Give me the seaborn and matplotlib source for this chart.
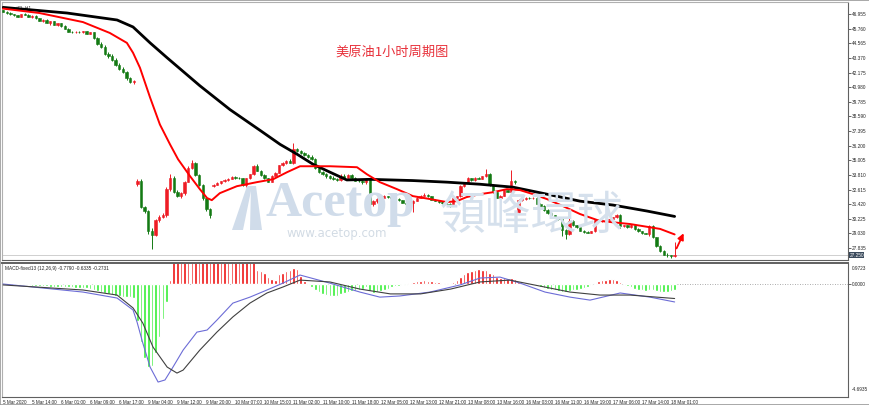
import numpy as np
import pandas as pd
import matplotlib.pyplot as plt
import seaborn as sns
from matplotlib.patches import Rectangle, Polygon

sns.set_style("white")
plt.rcParams['font.family'] = ['Liberation Sans', 'DejaVu Sans', 'Noto Sans CJK SC']

# hourly candles, bar index 0..185
opens = [47.25, 47.15, 47.05, 46.95, 46.85, 46.75, 46.95, 46.90, 46.75, 46.80,
         46.60, 46.40, 46.50, 46.25, 46.35, 46.10, 46.20, 45.95, 45.75, 45.50,
         45.45, 45.50, 45.45, 45.55, 45.35, 45.45, 45.00, 44.50, 44.30, 43.70,
         43.50, 43.20, 42.80, 42.50, 42.20, 41.70, 41.40, 33.10, 33.35, 31.20,
         30.85, 29.20, 28.90, 30.10, 30.40, 30.50, 32.70, 33.60, 32.45, 32.10,
         32.30, 33.25, 34.40, 34.75, 33.80, 33.00, 31.90, 31.00, 32.90, 33.00,
         33.15, 33.30, 33.40, 33.50, 33.65, 33.60, 33.55, 32.95, 33.55, 33.85,
         34.55, 34.15, 33.80, 33.55, 33.25, 33.75, 34.00, 34.60, 34.80, 34.95,
         34.80, 35.95, 35.75, 35.60, 35.45, 35.30, 35.10, 34.40, 34.05, 33.90,
         33.70, 33.60, 33.50, 33.40, 33.75, 33.60, 33.80, 33.55, 33.35, 33.30,
         33.20, 33.50, 31.40, 31.65, 31.85, 31.95, 32.05, 32.00, 31.95, 31.85,
         31.75, 31.55, 31.45, 31.50, 31.70, 31.95, 32.10, 32.20, 32.05, 31.80,
         31.70, 31.60, 31.50, 31.45, 31.30, 31.90, 32.05, 32.90, 33.20, 33.55,
         33.40, 33.60, 33.50, 33.70, 33.90, 33.00, 32.40, 31.95, 32.10, 32.55,
         32.45, 33.30, 30.80, 31.75, 31.85, 31.95, 31.90, 31.95, 31.45, 31.30,
         30.95, 30.70, 30.50, 30.35, 30.20, 29.30, 28.95, 30.05, 29.70, 29.55,
         29.25, 29.15, 29.10, 29.20, 30.10, 30.05, 30.10, 30.15, 30.20, 30.35,
         30.55, 29.60, 29.70, 29.55, 29.75, 29.40, 29.20, 29.05, 29.00, 29.65,
         28.70, 28.00, 27.60, 27.30, 27.25, 27.15]
highs = [47.30, 47.20, 47.10, 47.00, 46.90, 47.00, 47.05, 46.95, 46.85, 46.85,
         46.65, 46.55, 46.55, 46.40, 46.40, 46.25, 46.25, 46.05, 45.80, 45.55,
         45.55, 45.55, 45.60, 45.60, 45.50, 45.50, 45.10, 44.65, 44.40, 43.85,
         43.70, 43.40, 42.95, 42.60, 42.30, 41.85, 41.60, 33.50, 33.45, 31.30,
         30.95, 29.50, 30.20, 30.50, 30.70, 32.80, 33.90, 33.70, 32.55, 32.45,
         33.35, 34.55, 35.00, 34.85, 33.90, 33.10, 32.00, 31.10, 33.10, 33.25,
         33.35, 33.50, 33.60, 33.75, 33.70, 33.65, 33.60, 33.60, 33.90, 34.65,
         34.70, 34.25, 33.85, 33.60, 33.80, 34.05, 34.65, 34.85, 35.00, 35.10,
         36.45, 36.05, 35.85, 35.70, 35.55, 35.40, 35.20, 34.50, 34.15, 34.00,
         33.80, 33.70, 33.60, 33.85, 33.85, 33.90, 33.85, 33.65, 33.45, 33.40,
         33.60, 33.55, 31.75, 31.95, 32.05, 32.15, 32.10, 32.05, 32.00, 31.90,
         31.80, 31.60, 31.55, 31.80, 32.00, 32.15, 32.30, 32.25, 32.10, 31.85,
         31.75, 31.65, 31.55, 31.50, 31.95, 32.10, 32.95, 33.25, 33.65, 33.60,
         33.65, 33.65, 33.75, 34.30, 33.95, 33.05, 32.45, 32.15, 32.60, 32.60,
         34.25, 33.40, 31.85, 31.90, 32.00, 32.00, 32.00, 32.00, 31.50, 31.35,
         31.00, 30.80, 30.55, 30.40, 30.25, 29.40, 30.45, 30.10, 29.75, 29.60,
         29.30, 29.20, 29.25, 30.20, 30.20, 30.15, 30.20, 30.25, 30.40, 30.60,
         30.60, 29.75, 29.75, 29.80, 29.80, 29.45, 29.25, 29.10, 29.70, 29.70,
         28.75, 28.05, 27.65, 27.40, 27.30, 28.30]
lows = [47.10, 47.00, 46.90, 46.80, 46.70, 46.70, 46.85, 46.70, 46.65, 46.55,
        46.35, 46.30, 46.20, 46.10, 46.05, 46.00, 45.90, 45.70, 45.45, 45.40,
        45.40, 45.40, 45.40, 45.30, 45.30, 44.90, 44.40, 44.20, 43.60, 43.40,
        43.10, 42.70, 42.40, 42.10, 41.60, 41.30, 41.20, 32.90, 31.10, 30.70,
        29.00, 27.75, 28.80, 29.95, 30.30, 30.40, 32.50, 32.35, 32.00, 31.95,
        32.20, 33.20, 34.30, 33.70, 32.90, 31.75, 30.90, 30.30, 32.80, 32.95,
        33.05, 33.20, 33.30, 33.45, 33.50, 33.45, 32.90, 32.85, 33.50, 33.80,
        34.10, 33.75, 33.45, 33.20, 33.20, 33.70, 33.95, 34.50, 34.70, 34.75,
        34.70, 35.65, 35.50, 35.35, 35.20, 35.00, 34.30, 33.95, 33.80, 33.60,
        33.50, 33.40, 33.30, 33.35, 33.50, 33.55, 33.45, 33.30, 33.20, 33.10,
        33.10, 31.30, 31.30, 31.55, 31.75, 31.90, 31.95, 31.90, 31.80, 31.70,
        31.50, 31.40, 31.35, 30.80, 31.65, 31.90, 32.05, 32.00, 31.75, 31.65,
        31.55, 31.45, 31.40, 31.20, 31.25, 31.85, 32.00, 32.85, 33.15, 33.35,
        33.35, 33.45, 33.45, 33.65, 32.90, 32.35, 31.90, 31.90, 32.05, 32.40,
        32.10, 33.10, 30.70, 31.70, 31.80, 31.85, 31.85, 31.40, 31.25, 30.90,
        30.65, 30.45, 30.30, 30.15, 28.85, 28.60, 28.90, 29.65, 29.50, 29.20,
        29.10, 29.05, 29.05, 29.15, 30.00, 30.00, 30.05, 30.10, 30.15, 30.30,
        29.50, 29.55, 29.50, 29.50, 29.35, 29.15, 29.00, 28.95, 28.80, 28.65,
        27.95, 27.55, 27.25, 27.10, 27.05, 27.10]
closes = [47.15, 47.05, 46.95, 46.85, 46.75, 46.95, 46.90, 46.75, 46.80, 46.60,
          46.40, 46.50, 46.25, 46.35, 46.10, 46.20, 45.95, 45.75, 45.50, 45.45,
          45.50, 45.45, 45.55, 45.35, 45.45, 45.00, 44.50, 44.30, 43.70, 43.50,
          43.20, 42.80, 42.50, 42.20, 41.70, 41.40, 41.50, 33.35, 31.20, 30.85,
          29.20, 28.90, 30.10, 30.40, 30.50, 32.70, 33.60, 32.45, 32.10, 32.30,
          33.25, 34.40, 34.75, 33.80, 33.00, 31.90, 31.00, 30.55, 33.00, 33.15,
          33.30, 33.40, 33.50, 33.65, 33.60, 33.55, 32.95, 33.55, 33.85, 34.55,
          34.15, 33.80, 33.55, 33.25, 33.75, 34.00, 34.60, 34.80, 34.95, 34.80,
          35.95, 35.75, 35.60, 35.45, 35.30, 35.10, 34.40, 34.05, 33.90, 33.70,
          33.60, 33.50, 33.40, 33.75, 33.60, 33.80, 33.55, 33.35, 33.30, 33.20,
          33.50, 31.40, 31.65, 31.85, 31.95, 32.05, 32.00, 31.95, 31.85, 31.75,
          31.55, 31.45, 31.50, 31.70, 31.95, 32.10, 32.20, 32.05, 31.80, 31.70,
          31.60, 31.50, 31.45, 31.30, 31.90, 32.05, 32.90, 33.20, 33.55, 33.40,
          33.60, 33.50, 33.70, 33.90, 33.00, 32.40, 31.95, 32.10, 32.55, 32.45,
          33.30, 33.20, 31.75, 31.85, 31.95, 31.90, 31.95, 31.45, 31.30, 30.95,
          30.70, 30.50, 30.35, 30.20, 29.30, 28.95, 30.05, 29.70, 29.55, 29.25,
          29.15, 29.10, 29.20, 30.10, 30.05, 30.10, 30.15, 30.20, 30.35, 30.55,
          29.60, 29.70, 29.55, 29.75, 29.40, 29.20, 29.05, 29.00, 29.65, 28.70,
          28.00, 27.60, 27.30, 27.25, 27.15, 27.25]

# moving averages (bar, price)
red_ma_bar = [0, 10, 22, 29.4, 34.1, 35.8, 37.7, 40.5, 43.2, 46, 48.2, 51.5, 54.2,
              56.2, 57.5, 59.7, 64.4, 69.9, 74.4, 78.2, 81.8, 85.4, 90.1, 97.5,
              100.2, 103.8, 108.5, 112.9, 117.6, 122.3, 125, 127.7, 131.4, 135,
              138.8, 142.4, 146, 149.8, 154.2, 158.9, 164.4, 172.7, 181, 185]
red_ma_val = [47.40, 47.04, 46.30, 45.41, 44.60, 43.79, 42.57, 40.13, 37.93, 36.30,
              35.09, 33.71, 32.65, 31.92, 31.75, 32.32, 32.89, 33.22, 33.46, 34.03,
              34.52, 34.52, 34.52, 34.44, 33.87, 33.22, 32.65, 32.08, 31.84, 31.59,
              31.67, 32.00, 32.24, 32.40, 32.65, 32.57, 32.24, 31.84, 31.27, 30.62,
              30.05, 29.80, 29.40, 28.95]
black_ma_bar = [0, 17.6, 31.4, 35.8, 40.5, 45.2, 54.2, 62.5, 70.8, 76.3, 81, 85.4,
                90.1, 94.7, 101.1, 112.9, 122.3, 131.4, 140.5, 149.8, 158.9, 168,
                177.4, 185]
black_ma_val = [47.50, 47.04, 46.47, 45.90, 44.60, 43.38, 41.10, 39.15, 37.45, 36.31,
                35.50, 34.68, 34.03, 33.40, 33.45, 33.35, 33.22, 33.05, 32.81, 32.24,
                31.67, 31.35, 30.86, 30.42]

# MACD histogram per bar
macd_hist = [0.00, -0.01, -0.02, -0.03, -0.04, -0.05, -0.05, -0.06, -0.07, -0.08,
             -0.09, -0.10, -0.10, -0.11, -0.12, -0.12, -0.13, -0.14, -0.15, -0.15,
             -0.16, -0.17, -0.17, -0.18, -0.22, -0.28, -0.32, -0.36, -0.40, -0.44,
             -0.47, -0.50, -0.53, -0.55, -0.56, -0.58, -0.62, -1.60, -2.50, -3.20,
             -3.60, -3.55, -3.00, -2.30, -1.50, -0.80, 0.17, 0.97, 0.97, 0.97,
             0.97, 0.97, 0.97, 0.97, 0.97, 0.97, 0.97, 0.97, 0.97, 0.97,
             0.97, 0.97, 0.97, 0.97, 0.97, 0.97, 0.97, 0.97, 0.97, 0.97,
             0.60, 0.55, 0.50, 0.32, 0.22, 0.17, 0.42, 0.48, 0.55, 0.60,
             0.70, 0.65, 0.35, 0.12, -0.05, -0.15, -0.25, -0.35, -0.42, -0.48,
             -0.52, -0.52, -0.50, -0.45, -0.40, -0.35, -0.30, -0.30, -0.25, -0.20,
             -0.15, -0.30, -0.38, -0.35, -0.30, -0.25, -0.20, -0.15, -0.10, -0.08,
             -0.06, -0.05, 0.04, 0.08, 0.12, 0.15, 0.18, 0.15, 0.12, 0.10,
             0.08, 0.06, 0.05, 0.04, 0.10, 0.18, 0.30, 0.42, 0.52, 0.58,
             0.62, 0.65, 0.62, 0.60, 0.50, 0.42, 0.32, 0.28, 0.25, 0.22,
             0.25, 0.22, 0.10, 0.06, 0.04, 0.02, -0.02, -0.08, -0.12, -0.18,
             -0.22, -0.26, -0.28, -0.30, -0.34, -0.36, -0.30, -0.28, -0.25, -0.22,
             -0.18, -0.12, -0.05, 0.06, 0.12, 0.16, 0.18, 0.20, 0.20, 0.18,
             0.08, -0.05, -0.10, -0.15, -0.20, -0.24, -0.28, -0.30, -0.25, -0.28,
             -0.32, -0.35, -0.36, -0.34, -0.30, -0.27]

# MACD main / signal lines (bar, value)
macd_bar = [0, 8.2, 22, 31.4, 35.8, 36.9, 38.5, 40.5, 42.7, 44.6, 46.8, 49.6, 53.4,
            56.2, 58.9, 63.3, 68, 72.7, 77.1, 81.8, 90, 98.3, 103.8, 109.3, 117.6,
            125.9, 131.4, 136.9, 142.4, 149.3, 156.2, 161.7, 170, 178.2, 185]
macd_val = [0.00, -0.13, -0.35, -0.61, -1.13, -1.65, -2.57, -3.61, -4.26, -4.17,
            -3.61, -2.87, -2.09, -2.00, -1.57, -0.83, -0.57, -0.26, 0.04, 0.39,
            0.04, -0.35, -0.57, -0.52, -0.35, -0.04, 0.26, 0.30, 0.04, -0.35,
            -0.57, -0.70, -0.39, -0.57, -0.78]
signal_bar = [0, 22, 31.4, 35.8, 38.5, 41.3, 45.2, 47.9, 49.6, 54.2, 58.9, 63.3, 68,
              72.7, 77.1, 81.8, 90, 98.3, 106.7, 115, 123.3, 131.4, 139.6, 147.9,
              156.2, 164.4, 172.7, 185]
signal_val = [-0.04, -0.26, -0.48, -1.04, -1.70, -2.74, -3.61, -3.87, -3.74, -2.87,
              -2.09, -1.43, -0.83, -0.39, -0.13, 0.17, 0.09, -0.22, -0.43, -0.43,
              -0.22, 0.09, 0.17, -0.09, -0.35, -0.48, -0.48, -0.63]

price_ticks = [46.955, 45.760, 44.565, 43.370, 42.175, 40.980, 39.785, 38.590,
               37.395, 36.200, 35.005, 33.810, 32.615, 31.420, 30.225, 29.030, 27.835]
time_labels = ["5 Mar 2020", "5 Mar 14:00", "6 Mar 01:00", "6 Mar 09:00", "6 Mar 17:00",
               "9 Mar 04:00", "9 Mar 12:00", "9 Mar 20:00", "10 Mar 07:00", "10 Mar 15:00",
               "11 Mar 02:00", "11 Mar 10:00", "11 Mar 18:00", "12 Mar 05:00", "12 Mar 13:00",
               "12 Mar 21:00", "13 Mar 08:00", "13 Mar 16:00", "16 Mar 03:00", "16 Mar 11:00",
               "16 Mar 19:00", "17 Mar 06:00", "17 Mar 14:00", "18 Mar 01:00"]

df = pd.DataFrame({"o": opens, "h": highs, "l": lows, "c": closes})
df["bar"] = np.arange(len(df))
up_col, dn_col = "#ee1c25", "#147a14"
df["col"] = np.where(df["c"] >= df["o"], up_col, dn_col)

W, H = 870, 405
fig = plt.figure(figsize=(W / 100, H / 100), dpi=100)
ax = fig.add_axes([2 / W, 1 - 260 / H, 846 / W, 258 / H])
axm = fig.add_axes([2 / W, 1 - 397 / H, 846 / W, 134 / H], sharex=ax)

# watermark behind everything
wm = "#d0dcea"
fig.text(266 / W, 1 - 216 / H, "Acetop", fontsize=36, family="Liberation Serif",
         weight="bold", color=wm, zorder=0)
fig.text(440 / W, 1 - 229 / H, "領峰環球", fontsize=33, family="Noto Sans CJK TC",
         color="#d5e0ec", zorder=0)
fig.text(287 / W, 1 - 237 / H, "www.acetop.com", fontsize=8.5, family="DejaVu Sans",
         color="#d2dbe4", zorder=0)
fig.patches.append(Polygon([(232 / W, 1 - 230 / H), (247 / W, 1 - 186 / H),
                            (252 / W, 1 - 186 / H), (243 / W, 1 - 230 / H)],
                           closed=True, transform=fig.transFigure, fc=wm, ec="none", zorder=0))
fig.patches.append(Polygon([(250 / W, 1 - 230 / H), (251 / W, 1 - 186 / H),
                            (256 / W, 1 - 186 / H), (262 / W, 1 - 230 / H)],
                           closed=True, transform=fig.transFigure, fc=wm, ec="none", zorder=0))
ax.patch.set_alpha(0)

# candles
ax.vlines(df["bar"], df["l"], df["h"], colors=df["col"], lw=0.7, zorder=3)
ax.bar(df["bar"], df["c"] - df["o"], bottom=df["o"], width=0.65, color=df["col"],
       edgecolor=df["col"], lw=0.4, zorder=4)

sns.lineplot(x=black_ma_bar, y=black_ma_val, ax=ax, color="black", lw=2.0, sort=False, zorder=5)
sns.lineplot(x=red_ma_bar, y=red_ma_val, ax=ax, color="#ff0000", lw=1.4, sort=False, zorder=6)

last = closes[-1]
ax.axhline(last, color="#c8c8c8", lw=0.6, zorder=1)
ax.annotate("", xy=(len(closes) + 1.8, last + 2.0), xytext=(len(closes) - 0.8, last + 0.35),
            arrowprops=dict(arrowstyle="-|>", color="#ff0000", lw=1.3, mutation_scale=9),
            zorder=7)

ax.set_xlim(-0.3, 232.76)
ax.set_ylim(26.86, 47.94)
ax.yaxis.tick_right()
ax.set_yticks(price_ticks)
ax.set_yticklabels([f"{v:.3f}" for v in price_ticks])
ax.tick_params(axis="y", labelsize=3.4, length=2, width=0.5, pad=1, right=True)
ax.tick_params(axis="x", bottom=False, labelbottom=False)
ax.text(1.0015, last, f"{last:.3f}", transform=ax.get_yaxis_transform(), fontsize=3.4,
        color="white", va="center", ha="left",
        bbox=dict(boxstyle="square,pad=0.15", fc="#3a4a5c", ec="none"))
ax.text(0.016, 0.988, "#CL,H1", transform=ax.transAxes, fontsize=3.4, va="top",
        color="#333333")

fig.text(392 / W, 1 - 52 / H, "美原油1小时周期图", fontsize=9.5, color="#e8313b",
         ha="center", va="center", family=["Noto Sans CJK SC"])

# MACD panel
hist = np.array(macd_hist)
hcol = np.where(hist >= 0, "#ee1111", "#33ee33")
axm.bar(df["bar"], hist, width=0.7, color=hcol, zorder=2)
axm.axhline(0, color="#909090", lw=0.6, ls=(0, (1, 2)), zorder=1)
sns.lineplot(x=macd_bar, y=macd_val, ax=axm, color="#6c6cd6", lw=0.8, sort=False, zorder=3)
sns.lineplot(x=signal_bar, y=signal_val, ax=axm, color="#404040", lw=0.8, sort=False, zorder=3)
axm.set_ylim(-4.91, 0.913)
axm.yaxis.tick_right()
axm.set_yticks([0.0])
axm.set_yticklabels(["0.0000"])
axm.tick_params(axis="y", labelsize=3.4, length=2, width=0.5, pad=1)
axm.text(1.004, 0.975, "0.9723", transform=axm.transAxes, fontsize=3.4, va="top")
axm.text(1.004, 0.04, "-4.6935", transform=axm.transAxes, fontsize=3.4, va="bottom")
axm.text(0.003, 0.975, "MACD-fixed13 (12,26,9) -0.7790 -0.6335 -0.2731",
         transform=axm.transAxes, fontsize=3.4, va="top", color="#222222")

ticks = np.arange(0, 8 * len(time_labels), 8)
axm.set_xticks(ticks)
axm.set_xticklabels(time_labels, ha="left")
axm.tick_params(axis="x", labelsize=3.3, length=2, width=0.5, pad=0.5, direction="out")
axm.set_xlabel("")
axm.set_ylabel("")
ax.set_xlabel("")
ax.set_ylabel("")

for a in (ax, axm):
    for s in a.spines.values():
        s.set_color("#606060")
        s.set_linewidth(0.8)
    a.spines["left"].set_color("#b0b0b0")
axm.spines["top"].set_linewidth(1.4)
ax.spines["top"].set_color("#b0b0b0")

fig.patches.append(Rectangle((0, 0), 1, 1, transform=fig.transFigure, fill=False,
                             ec="#9a9a9a", lw=1.2))

fig.savefig("out.png", dpi=100)
